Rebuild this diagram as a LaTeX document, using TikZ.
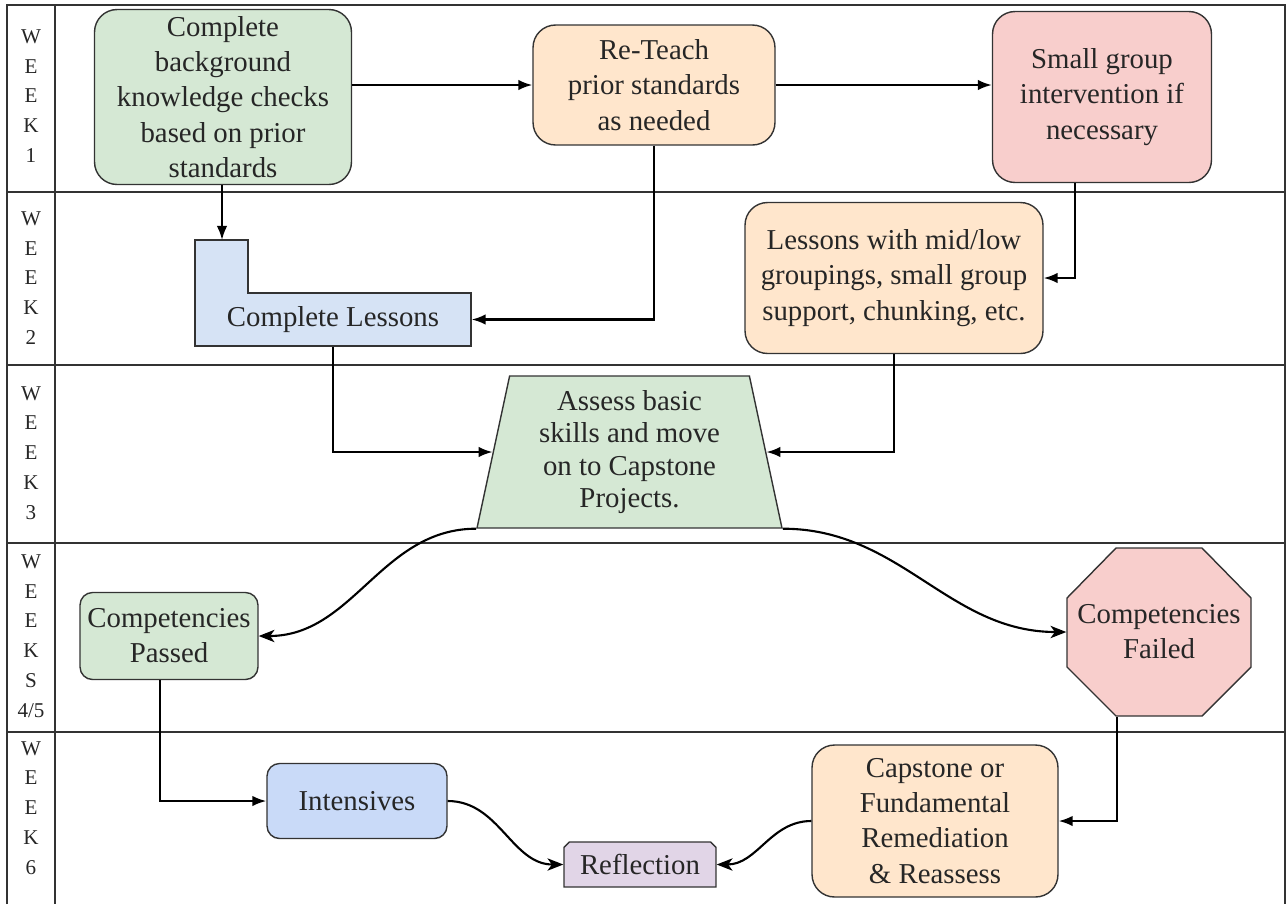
\documentclass[tikz,border=0pt]{standalone}
\usepackage{fontspec}
\setmainfont{Liberation Serif}
\usetikzlibrary{arrows.meta,positioning,shapes.geometric,shapes.misc}
\definecolor{pgreen}{HTML}{D5E8D4}
\definecolor{porange}{HTML}{FFE6CC}
\definecolor{pred}{HTML}{F8CECC}
\definecolor{pblue}{HTML}{D6E3F5}
\definecolor{pbluedark}{HTML}{C9DAF8}
\definecolor{ppurple}{HTML}{E1D5E7}
\definecolor{pline}{HTML}{333333}

\begin{document}
\begin{tikzpicture}
	[x=0.02cm, y=-0.02cm,
	box/.style={draw=pline, line width=0.8pt, text=black!85, align=center, inner sep=2pt, font=\fontsize{16.4}{20}\selectfont},
	rbig/.style={box, rounded corners=0.45cm},
	rsmall/.style={box, rounded corners=0.25cm},
	lane/.style={align=center, text=black!85, font=\fontsize{12}{17}\selectfont},
	grid/.style={draw=pline, line width=0.8pt},
	post/.style={-{Latex[length=8pt,width=6pt]}, line width=1.2pt},
	wave/.style={-{Stealth[length=9pt,width=7pt,inset=2.5pt]}, line width=1.2pt}]
	\useasboundingbox (0,0) rectangle (1288,904);
	\draw[grid] (7,904) -- (7,5) -- (1285,5) -- (1285,904);
	\draw[grid] (55,5) -- (55,904);
	\foreach \y in {192,365,543,732}
		\draw[grid] (7,\y) -- (1285,\y);
	\node (week1) [lane] at (31,96) {W\\E\\E\\K\\1};
	\node (week2) [lane] at (31,278) {W\\E\\E\\K\\2};
	\node (week3) [lane] at (31,453) {W\\E\\E\\K\\3};
	\node (week45) [lane] at (31,636) {W\\E\\E\\K\\S\\4/5};
	\node (week6) [lane] at (31,808) {W\\E\\E\\K\\6};

	\node (bg) [rbig, fill=pgreen, minimum width=5.14cm, minimum height=3.5cm] at (223,97)
		{Complete\\background\\knowledge checks\\based on prior\\standards};
	\node (reteach) [rbig, fill=porange, minimum width=4.84cm, minimum height=2.4cm] at (654,85)
		{Re-Teach\\prior standards\\as needed};
	\node (small) [rbig, fill=pred, minimum width=4.38cm, minimum height=3.42cm] at (1102,97)
		{Small group\\intervention if\\necessary};
	\node (lessons) [rbig, fill=porange, minimum width=5.96cm, minimum height=3.02cm] at (894,278)
		{Lessons with mid/low\\groupings, small group\\support, chunking, etc.};
	\draw[grid, fill=pblue] (195,240) -- (248,240) -- (248,293) -- (471,293) -- (471,346) -- (195,346) -- cycle;
	\coordinate (notch) at (222,240);
	\node (complete) [box, draw=none, minimum width=5.52cm, minimum height=1.06cm] at (333,319.5) {Complete Lessons};
	\node (assess) [box, fill=pgreen, trapezium, trapezium left angle=76, trapezium right angle=76,
		trapezium stretches body, minimum width=6.1cm, minimum height=3.04cm, font=\fontsize{16.4}{18.5}\selectfont] at (629.5,452)
		{Assess basic\\skills and move\\on to Capstone\\Projects.};
	\node (passed) [rsmall, fill=pgreen, minimum width=3.56cm, minimum height=1.74cm] at (169,636)
		{Competencies\\Passed};
	\draw[grid, fill=pred] (1116,548) -- (1202,548) -- (1251,598) -- (1251,667) -- (1202,716)
		-- (1116,716) -- (1067,667) -- (1067,598) -- cycle;
	\node (failed) [box, draw=none, minimum width=3.68cm, minimum height=3.36cm] at (1159,632)
		{Competencies\\Failed};
	\node (intensives) [rsmall, fill=pbluedark, minimum width=3.6cm, minimum height=1.5cm] at (357,801)
		{Intensives};
	\node (reflection) [box, fill=ppurple, chamfered rectangle, chamfered rectangle corners={north west,north east},
		chamfered rectangle xsep=1.5pt, chamfered rectangle ysep=1.5pt, minimum width=3.04cm, minimum height=0.9cm] at (640,864.5)
		{Reflection};
	\node (capstone) [rbig, fill=porange, minimum width=4.92cm, minimum height=3.04cm] at (935,821)
		{Capstone or\\Fundamental\\Remediation\\\& Reassess};

	\draw[post] (bg.east |- reteach.west) -- (reteach.west);
	\draw[post] (reteach.east) -- (reteach.east -| small.west);
	\draw[post] (bg.south -| notch) -- (notch);
	\draw[post] (reteach.south) |- (complete.east);
	\draw[post] ([xshift=-0.54cm]small.south) |- (lessons.east);
	\draw[post] (complete.south) |- (assess.west);
	\draw[post] (lessons.south) |- (assess.east);
	\draw[wave] (assess.bottom left corner) to[out=180,in=0] (passed.east);
	\draw[wave] (assess.bottom right corner) to[out=0,in=180] (failed.west);
	\draw[post] ([xshift=-0.18cm]passed.south) |- (intensives.west);
	\draw[post] ([xshift=-0.84cm]failed.south) |- (capstone.east);
	\draw[wave] (intensives.east) to[out=0,in=180] (reflection.west);
	\draw[wave] (capstone.west) to[out=180,in=0] (reflection.east);
\end{tikzpicture}
\end{document}
